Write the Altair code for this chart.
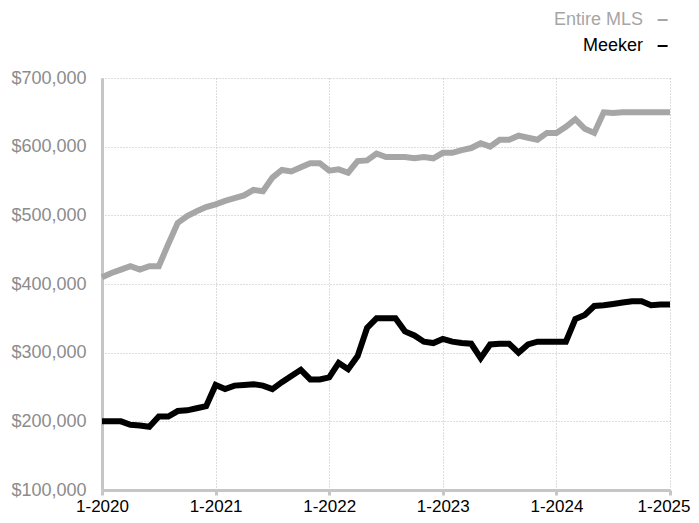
import altair as alt
import pandas as pd

# Monthly, Jan 2020 .. Jan 2025 (61 points)
months = [f"{2020 + i // 12}-{i % 12 + 1:02d}" for i in range(61)]

mls = [410, 416, 421, 426, 421, 426, 426, 458, 489, 499, 506, 512,
       516, 521, 525, 529, 537, 535, 555, 566, 564, 570, 576, 576,
       565, 567, 562, 579, 580, 590, 585, 585, 585, 583, 585, 583,
       591, 591, 595, 598, 605, 600, 610, 610, 616, 613, 610, 620,
       620, 629, 640, 626, 620, 650, 649, 650, 650, 650, 650, 650,
       650]
meeker = [200, 200, 200, 195, 194, 192, 207, 207, 215, 216, 219, 222,
          253, 247, 252, 253, 254, 252, 247, 257, 266, 275, 261, 261,
          264, 285, 276, 295, 336, 350, 350, 350, 331, 325, 316, 314,
          320, 316, 314, 313, 292, 312, 313, 313, 300, 312, 316, 316,
          316, 316, 349, 355, 368, 369, 371, 373, 375, 375, 369, 370,
          370]

series_names = ["Entire MLS", "Meeker"]
series_colors = ["#a6a6a6", "#000000"]
year_ticks = [0, 12, 24, 36, 48, 60]
y_ticks = [100000, 200000, 300000, 400000, 500000, 600000, 700000]

rows = []
for i, m in enumerate(months):
    rows.append({"idx": i, "month": m, "series": "Entire MLS", "value": mls[i] * 1000})
    rows.append({"idx": i, "month": m, "series": "Meeker", "value": meeker[i] * 1000})
df = pd.DataFrame(rows)

FONT = "Liberation Sans"

color = alt.Color("series:N", scale=alt.Scale(domain=series_names, range=series_colors), legend=None)

lines = alt.Chart(df).mark_line(strokeWidth=6, clip=False).encode(
    x=alt.X("idx:Q",
            scale=alt.Scale(domain=[0, 60], nice=False, zero=False),
            axis=alt.Axis(values=year_ticks, title=None,
                          labelExpr="'1-' + (2020 + datum.value / 12)",
                          labelColor="#000000", labelFontSize=17, labelFont=FONT,
                          labelBaseline="alphabetic", labelPadding=16,
                          labelAlign={"condition": {"test": "datum.value == 60", "value": "right"}, "value": "center"},
                          labelOffset={"condition": {"test": "datum.value == 60", "value": 20}, "value": 0},
                          tickSize=5, tickWidth=3, tickColor="#c6c6c6",
                          domainColor="#c6c6c6", domainWidth=3,
                          gridColor="#bdbdbd", gridDash=[1, 2], gridWidth=1)),
    y=alt.Y("value:Q",
            scale=alt.Scale(domain=[100000, 700000], nice=False, zero=False),
            axis=alt.Axis(values=y_ticks, title=None, format="$,.0f",
                          labelColor="#8c8c8c", labelFontSize=18, labelFont=FONT,
                          labelPadding=16, ticks=False,
                          domainColor="#c6c6c6", domainWidth=3,
                          gridColor="#bdbdbd", gridDash=[1, 2], gridWidth=1)),
    color=color,
    order=alt.Order("idx:Q"),
    detail="series:N",
)

legend_df = pd.DataFrame({"series": series_names, "label": series_names, "dash": ["\u2013", "\u2013"]})

legend_layers = []
for name, ypos in zip(series_names, [-53, -27]):
    base = alt.Chart(legend_df).transform_filter(alt.datum.series == name)
    legend_layers.append(base.mark_text(align="right", baseline="alphabetic", fontSize=18, font=FONT).encode(
        text="label:N", color=color, x=alt.value(541), y=alt.value(ypos)))
    legend_layers.append(base.mark_text(align="left", baseline="alphabetic", fontSize=20, fontWeight="bold",
                                        font=FONT).encode(
        text="dash:N", color=color, x=alt.value(555), y=alt.value(ypos)))

chart = alt.layer(lines, *legend_layers).properties(
    width=568, height=412,
    autosize=alt.AutoSizeParams(type="none"),
    padding={"left": 94, "top": 70, "right": 21, "bottom": 25},
).configure_view(stroke=None)

chart.save("out.html", embed_options={"renderer": "svg", "actions": False})
